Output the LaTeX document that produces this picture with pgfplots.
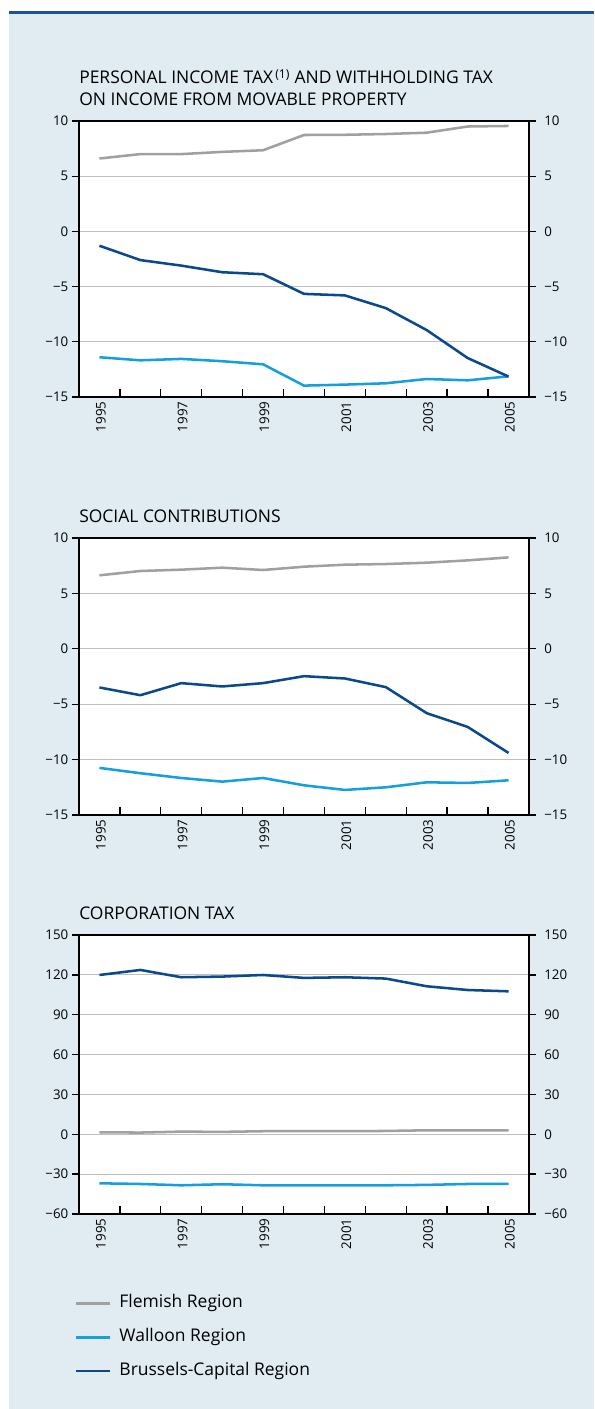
\documentclass[border=0pt]{standalone}
\usepackage{fontspec}
\setmainfont{Open Sans}
\usepackage{pgfplots}
\pgfplotsset{compat=1.18}
\definecolor{bgblue}{RGB}{224,235,242}
\definecolor{rulebl}{RGB}{28,84,150}
\definecolor{flemish}{RGB}{160,160,160}
\definecolor{walloon}{RGB}{20,160,224}
\definecolor{brussels}{RGB}{10,74,140}
\definecolor{gridgray}{RGB}{190,190,190}

% years as plain numbers, one table per panel
\pgfplotstableread{
year  fl    wa      br
1995  6.60  -11.40  -1.30
1996  7.00  -11.68  -2.60
1997  7.00  -11.55  -3.10
1998  7.20  -11.76  -3.70
1999  7.35  -12.04  -3.88
2000  8.73  -13.97  -5.66
2001  8.75  -13.88  -5.80
2002  8.82  -13.76  -6.95
2003  8.94  -13.37  -8.94
2004  9.50  -13.49  -11.47
2005  9.55  -13.13  -13.15
}\pit
\pgfplotstableread{
year  fl    wa      br
1995  6.63  -10.75  -3.49
1996  7.02  -11.23  -4.19
1997  7.14  -11.66  -3.10
1998  7.32  -11.99  -3.40
1999  7.11  -11.66  -3.10
2000  7.41  -12.32  -2.47
2001  7.59  -12.74  -2.68
2002  7.65  -12.50  -3.46
2003  7.77  -12.05  -5.81
2004  7.98  -12.11  -7.05
2005  8.25  -11.87  -9.40
}\soc
\pgfplotstableread{
year  fl   wa     br
1995  1.5  -36.9  119.9
1996  1.3  -37.4  123.7
1997  2.0  -38.4  118.2
1998  1.8  -37.6  118.7
1999  2.3  -38.4  119.9
2000  2.3  -38.4  117.7
2001  2.3  -38.4  118.2
2002  2.5  -38.4  117.2
2003  3.0  -38.1  111.4
2004  3.0  -37.4  108.6
2005  3.0  -37.4  107.6
}\corp

\pgfplotsset{
  panel/.style={
    scale only axis, width=337.5pt,
    xmin=1994.5, xmax=2005.5,
    axis line style={black, line width=1.1pt},
    tick label style={font=\fontsize{10}{12}\selectfont},
  },
  main/.style={
    panel,
    axis background/.style={fill=white},
    xtick={1995,1997,...,2005},
    xticklabels={1995,1997,1999,2001,2003,2005},
    xticklabel style={rotate=90, anchor=east, yshift=-1pt},
    minor xtick={1995.5,1996.5,...,2004.5},
    xtick pos=bottom,
    tick align=inside,
    major tick length=0pt,
    minor tick length=6pt,
    minor tick style={black, line width=1pt},
    ymajorgrids,
    major grid style={gridgray, line width=0.9pt},
    extra y ticks={0},
    extra y tick labels={},
    extra y tick style={grid style={black, line width=1.1pt}},
    yticklabel style={xshift=-4.5pt},
    title style={at={(0,1)}, anchor=south west, align=left, inner sep=0pt,
      yshift=5pt, font=\fontsize{13.1}{16.5}\selectfont},
    every axis plot/.append style={line width=1.9pt, line join=round},
  },
  side/.style={
    panel,
    hide x axis,
    ytick pos=both,
    yticklabel pos=right,
    tick align=outside,
    major tick length=5.5pt,
    major tick style={black, line width=1pt},
    yticklabel style={xshift=2.5pt},
  },
}

\begin{document}
\begin{tikzpicture}
\fill[bgblue] (6.75pt,0pt) rectangle (445.5pt,1048.5pt);
\fill[rulebl] (6.75pt,1046.5pt) rectangle (445.5pt,1048.5pt);

% ---- panel 1
\begin{axis}[main, at={(59.25pt,759pt)}, anchor=south west, height=207pt,
  ymin=-15, ymax=10, ytick={-15,-10,...,10},
  yticklabels={−15,−10,−5,0,5,10},
  title={PERSONAL INCOME TAX\textsuperscript{\,(1)} AND WITHHOLDING TAX\\ON INCOME FROM MOVABLE PROPERTY}]
\addplot[flemish] table[x=year, y=fl] {\pit};
\addplot[walloon] table[x=year, y=wa] {\pit};
\addplot[brussels] table[x=year, y=br] {\pit};
\end{axis}
\begin{axis}[side, at={(59.25pt,759pt)}, anchor=south west, height=207pt,
  ymin=-15, ymax=10, ytick={-15,-10,...,10},
  yticklabels={−15,−10,−5,0,5,10}]
\end{axis}

% ---- panel 2
\begin{axis}[main, at={(59.25pt,445.5pt)}, anchor=south west, height=207.75pt,
  ymin=-15, ymax=10, ytick={-15,-10,...,10},
  yticklabels={−15,−10,−5,0,5,10},
  title={SOCIAL CONTRIBUTIONS}]
\addplot[flemish] table[x=year, y=fl] {\soc};
\addplot[walloon] table[x=year, y=wa] {\soc};
\addplot[brussels] table[x=year, y=br] {\soc};
\end{axis}
\begin{axis}[side, at={(59.25pt,445.5pt)}, anchor=south west, height=207.75pt,
  ymin=-15, ymax=10, ytick={-15,-10,...,10},
  yticklabels={−15,−10,−5,0,5,10}]
\end{axis}

% ---- panel 3
\begin{axis}[main, at={(59.25pt,146.25pt)}, anchor=south west, height=209.25pt,
  ymin=-60, ymax=150, ytick={-60,-30,...,150},
  yticklabels={−60,−30,0,30,60,90,120,150},
  title={CORPORATION TAX},
  legend style={at={(axis description cs:-0.02,-0.28)}, anchor=north west,
    draw=none, fill=none, row sep=12.9pt, column sep=6pt,
    font=\fontsize{13.1}{15}\selectfont,
    nodes={inner sep=0pt, text height=9.5pt, text depth=3pt}},
  legend cell align=left,
  legend image code/.code={\draw[#1, line width=1.9pt] (0pt,0pt) -- (26pt,0pt);}]
\addplot[flemish] table[x=year, y=fl] {\corp};
\addplot[walloon] table[x=year, y=wa] {\corp};
\addplot[brussels] table[x=year, y=br] {\corp};
\legend{Flemish Region, Walloon Region, Brussels-Capital Region}
\end{axis}
\begin{axis}[side, at={(59.25pt,146.25pt)}, anchor=south west, height=209.25pt,
  ymin=-60, ymax=150, ytick={-60,-30,...,150},
  yticklabels={−60,−30,0,30,60,90,120,150}]
\end{axis}

\pgfresetboundingbox
\useasboundingbox (0pt,0pt) rectangle (445.5pt,1056.75pt);
\end{tikzpicture}
\end{document}
